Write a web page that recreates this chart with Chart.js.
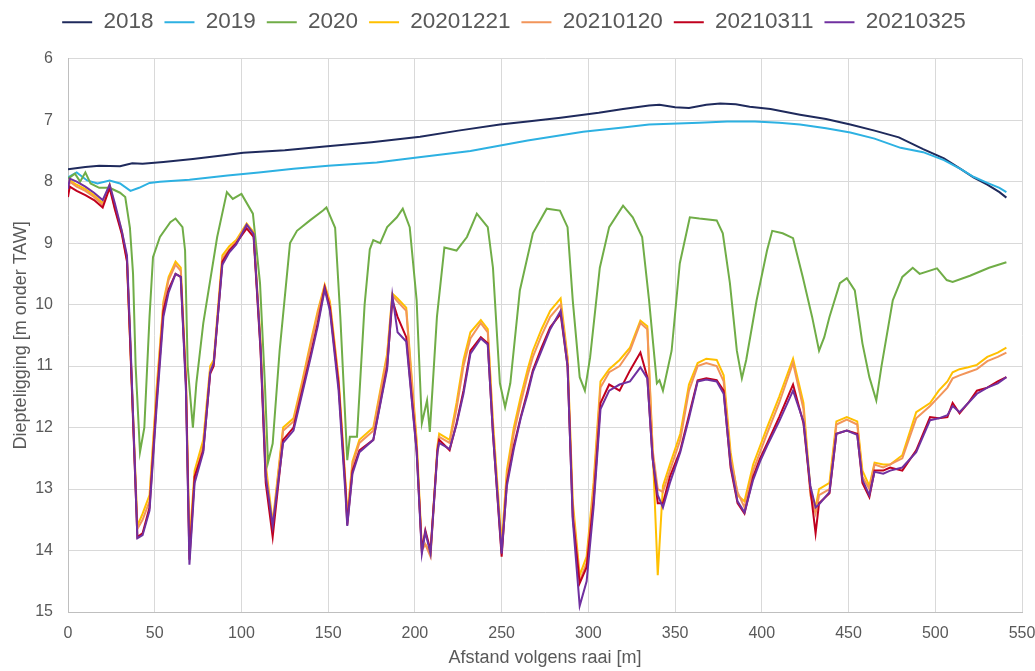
<!DOCTYPE html>
<html>
<head>
    <title>Diepteligging raai</title>
    <script src="https://cdn.jsdelivr.net/npm/chart.js"></script>
    <style>
        body {
            margin: 0;
            background-color: #ffffff;
        }
        #depthChart {
            display: block;
        }
    </style>
</head>
<body>
    <canvas id="depthChart" width="1035" height="671"></canvas>

    <script>
        // Series names as in the legend
        const seriesNames = ['2018', '2019', '2020', '20201221', '20210120', '20210311', '20210325'];

        // 2018 survey (distance [m], depth [m onder TAW])
        const x2018 = [0, 10, 18, 30, 37, 43, 55, 72, 90, 101, 125, 148, 175, 203, 225, 249, 265, 284, 306, 320, 335, 341, 350, 358, 368, 376, 385, 393, 405, 422, 437, 451, 465, 479, 493, 505, 515, 522, 530, 537, 541];
        const d2018 = [7.8, 7.76, 7.74, 7.75, 7.7, 7.71, 7.68, 7.63, 7.57, 7.53, 7.49, 7.43, 7.36, 7.27, 7.17, 7.07, 7.02, 6.96, 6.88, 6.82, 6.76, 6.75, 6.79, 6.8, 6.75, 6.73, 6.74, 6.78, 6.82, 6.91, 6.98, 7.07, 7.17, 7.28, 7.47, 7.62, 7.8, 7.93, 8.05, 8.17, 8.26];

        // 2019 survey
        const x2019 = [0, 5, 11, 17, 24, 30, 36, 41, 47, 53, 70, 92, 110, 130, 150, 178, 200, 232, 265, 297, 320, 335, 364, 380, 396, 410, 422, 437, 451, 465, 480, 493, 505, 515, 522, 530, 537, 541];
        const d2019 = [7.93, 7.85, 7.98, 8.03, 7.98, 8.03, 8.15, 8.1, 8.02, 8.0, 7.97, 7.9, 7.85, 7.79, 7.74, 7.69, 7.61, 7.5, 7.33, 7.19, 7.12, 7.07, 7.04, 7.02, 7.02, 7.04, 7.07, 7.13, 7.2, 7.3, 7.45, 7.52, 7.65, 7.8, 7.92, 8.02, 8.1, 8.17];

        // 2020 survey
        const x2020 = [0, 4, 7, 10, 13, 18, 24, 30, 33, 35.7, 37.5, 39, 41.5, 44, 47, 49, 53, 59, 62, 66, 67.5, 69, 72, 74, 78, 86, 91.6, 95, 100, 106.6, 110.7, 113.5, 115.3, 118, 122, 128, 132, 139.5, 147, 149, 154, 157, 161, 162.5, 166.6, 171, 174, 176, 180, 184, 189.6, 193, 197, 201, 204, 207, 208.6, 212.7, 217, 224, 230, 235.7, 242, 245, 249, 252, 255, 260.5, 268, 276, 283.6, 288, 291, 295, 298, 301, 306.6, 312, 320, 325.6, 331, 335, 339.5, 341, 343, 348, 352.7, 358.5, 364, 374, 377.5, 381.6, 385.6, 388.5, 391, 397, 403, 406, 412, 418, 423.6, 429, 433, 436, 439, 445, 449, 453.6, 458, 462, 466, 469, 475.5, 481, 487, 491, 501, 506.6, 510, 520, 531, 541];
        const d2020 = [7.95, 7.87, 8.0, 7.85, 8.03, 8.1, 8.1, 8.18, 8.25, 8.75, 9.5, 11.0, 12.4, 12.0, 10.2, 9.23, 8.9, 8.66, 8.6, 8.74, 9.12, 11.0, 12.0, 11.28, 10.3, 8.9, 8.17, 8.28, 8.2, 8.52, 9.65, 11.28, 12.57, 12.26, 10.75, 9.0, 8.8, 8.63, 8.47, 8.42, 8.75, 10.2, 12.53, 12.15, 12.15, 10.0, 9.1, 8.95, 9.0, 8.74, 8.58, 8.44, 8.74, 9.93, 11.93, 11.56, 12.07, 10.2, 9.07, 9.12, 8.9, 8.52, 8.74, 9.4, 11.28, 11.67, 11.28, 9.77, 8.84, 8.44, 8.47, 8.74, 9.93, 11.18, 11.4, 10.86, 9.4, 8.74, 8.39, 8.58, 8.9, 9.93, 11.28, 11.23, 11.4, 10.75, 9.33, 8.58, 8.6, 8.63, 8.84, 9.65, 10.75, 11.2, 10.9, 9.93, 9.12, 8.8, 8.84, 8.92, 9.55, 10.2, 10.75, 10.53, 10.2, 9.65, 9.57, 9.77, 10.63, 11.18, 11.56, 11.0, 9.93, 9.55, 9.4, 9.5, 9.41, 9.6, 9.63, 9.53, 9.4, 9.31];

        // Shared distances for the four winter 2020-2021 surveys
        const xWinter = [0, 1, 5, 10, 15, 20, 24, 27, 31, 34, 36, 40, 43, 47, 51, 55, 58, 62, 65, 68, 70, 73, 78, 82, 84, 89, 93, 97, 103, 107, 111, 114, 118, 124, 130, 135, 140, 144, 148, 151, 156, 160, 161, 164, 168, 176, 184, 187, 190, 195, 201, 204, 206, 209, 213, 214, 220, 224, 228, 232, 238, 242, 245, 250, 253, 257, 261, 265, 268, 273, 278, 284, 288, 291, 295, 299, 303, 307, 312, 318, 324, 330, 334, 337, 340, 343, 347, 353, 358, 363, 368, 374, 378, 382, 386, 390, 395, 399, 403, 410, 418, 424, 428, 431, 433, 439, 443, 449, 455, 458, 462, 465, 470, 474, 481, 489, 497, 502, 507, 510, 514, 519, 524, 530, 536, 541];

        const d20201221 = [8.15, 7.98, 8.05, 8.12, 8.22, 8.35, 8.05, 8.4, 8.8, 9.25, 10.7, 13.6, 13.4, 13.1, 11.4, 9.95, 9.55, 9.3, 9.4, 11.2, 13.9, 12.7, 12.2, 11.0, 10.9, 9.2, 9.05, 8.95, 8.68, 8.82, 10.6, 12.6, 13.55, 12.0, 11.85, 11.25, 10.6, 10.1, 9.68, 9.95, 11.2, 12.9, 13.45, 12.55, 12.2, 12.0, 10.8, 9.82, 9.9, 10.05, 12.2, 13.95, 13.9, 14.05, 12.3, 12.1, 12.2, 11.6, 10.9, 10.45, 10.25, 10.4, 11.9, 13.9, 12.7, 12.0, 11.5, 11.05, 10.75, 10.4, 10.1, 9.9, 10.85, 13.2, 14.4, 14.1, 12.9, 11.25, 11.05, 10.9, 10.7, 10.26, 10.35, 12.3, 14.4, 12.95, 12.6, 12.1, 11.3, 10.95, 10.88, 10.9, 11.15, 12.4, 13.1, 13.2, 12.6, 12.3, 12.0, 11.5, 10.88, 11.6, 13.0, 13.3, 13.0, 12.9, 11.9, 11.83, 11.9, 12.7, 12.95, 12.57, 12.6, 12.6, 12.45, 11.75, 11.6, 11.4, 11.25, 11.1, 11.05, 11.02, 10.98, 10.85, 10.78, 10.7];

        const d20210120 = [8.18, 8.0, 8.08, 8.15, 8.25, 8.38, 8.08, 8.42, 8.82, 9.27, 10.7, 13.65, 13.5, 13.2, 11.5, 10.0, 9.6, 9.35, 9.45, 11.25, 14.0, 12.8, 12.3, 11.05, 10.95, 9.25, 9.1, 8.98, 8.7, 8.85, 10.65, 12.7, 13.6, 12.05, 11.9, 11.3, 10.65, 10.15, 9.7, 10.0, 11.25, 12.95, 13.5, 12.6, 12.25, 12.05, 10.85, 9.85, 9.95, 10.1, 12.3, 14.0, 13.9, 14.1, 12.35, 12.15, 12.25, 11.7, 11.0, 10.55, 10.3, 10.45, 12.0, 14.0, 12.8, 12.1, 11.6, 11.15, 10.85, 10.5, 10.2, 10.0, 10.9, 13.3, 14.5, 14.2, 13.0, 11.35, 11.1, 11.0, 10.75, 10.3, 10.4, 12.35, 13.0, 13.05, 12.7, 12.2, 11.4, 11.0, 10.95, 11.0, 11.25, 12.5, 13.05, 13.3, 12.7, 12.4, 12.1, 11.6, 10.95, 11.7, 13.1, 13.4, 13.1, 13.0, 11.95, 11.87, 11.95, 12.8, 13.0, 12.6, 12.65, 12.6, 12.5, 11.85, 11.65, 11.5, 11.35, 11.2, 11.15, 11.1, 11.05, 10.92, 10.85, 10.78];

        const d20210311 = [8.25, 8.08, 8.15, 8.22, 8.3, 8.42, 8.1, 8.45, 8.85, 9.3, 10.75, 13.78, 13.72, 13.3, 11.6, 10.1, 9.75, 9.5, 9.55, 11.3, 14.15, 12.8, 12.37, 11.12, 11.0, 9.3, 9.12, 9.0, 8.76, 8.9, 10.75, 12.9, 13.78, 12.2, 12.0, 11.4, 10.8, 10.3, 9.72, 10.05, 11.3, 13.0, 13.58, 12.7, 12.37, 12.2, 11.0, 9.93, 10.2, 10.53, 12.37, 14.0, 13.67, 14.0, 12.37, 12.2, 12.37, 11.93, 11.4, 10.75, 10.53, 10.63, 12.1, 14.1, 12.9, 12.3, 11.83, 11.4, 11.07, 10.7, 10.37, 10.15, 11.0, 13.45, 14.53, 14.27, 13.2, 11.6, 11.3, 11.4, 11.07, 10.78, 11.18, 12.48, 13.23, 13.23, 12.8, 12.37, 11.8, 11.23, 11.2, 11.23, 11.4, 12.65, 13.23, 13.4, 12.8, 12.5, 12.26, 11.83, 11.3, 11.93, 13.0, 13.72, 13.23, 13.07, 12.1, 12.05, 12.1, 12.9, 13.13, 12.7, 12.7, 12.65, 12.7, 12.37, 11.83, 11.85, 11.83, 11.6, 11.77, 11.6, 11.4, 11.35, 11.25, 11.18];

        const d20210325 = [8.12, 7.95, 8.0, 8.08, 8.18, 8.3, 8.05, 8.35, 8.8, 9.2, 10.6, 13.8, 13.75, 13.35, 11.7, 10.2, 9.8, 9.5, 9.55, 11.4, 14.23, 12.9, 12.4, 11.1, 10.95, 9.35, 9.15, 9.02, 8.7, 8.85, 10.7, 12.8, 13.6, 12.25, 12.05, 11.45, 10.85, 10.35, 9.75, 10.1, 11.4, 13.1, 13.6, 12.75, 12.4, 12.2, 11.05, 9.85, 10.45, 10.6, 12.4, 14.05, 13.7, 14.05, 12.4, 12.25, 12.35, 11.95, 11.45, 10.8, 10.55, 10.65, 12.1, 14.05, 12.95, 12.35, 11.85, 11.45, 11.1, 10.75, 10.4, 10.1, 11.0, 13.5, 14.9, 14.5, 13.3, 11.7, 11.4, 11.3, 11.25, 11.02, 11.2, 12.5, 13.1, 13.3, 12.9, 12.4, 11.85, 11.25, 11.22, 11.25, 11.45, 12.6, 13.2, 13.38, 12.85, 12.55, 12.3, 11.9, 11.4, 11.9, 12.95, 13.3, 13.25, 13.05, 12.1, 12.05, 12.12, 12.85, 13.1, 12.72, 12.75, 12.7, 12.65, 12.4, 11.88, 11.85, 11.8, 11.65, 11.75, 11.6, 11.45, 11.35, 11.28, 11.18];

        const seriesColors = ['#1f2a5c', '#2db1e2', '#70ad47', '#ffc000', '#f2955a', '#c0001e', '#7030a0'];

        const xValues = [x2018, x2019, x2020, xWinter, xWinter, xWinter, xWinter];
        const yValues = [d2018, d2019, d2020, d20201221, d20210120, d20210311, d20210325];

        const textColor = '#595959';
        const fontFamily = '"Liberation Sans", Arial, Helvetica, sans-serif';

        const datasets = seriesNames.map((name, i) => ({
            label: name,
            data: xValues[i].map((x, j) => ({ x: x, y: yValues[i][j] })),
            borderColor: seriesColors[i],
            backgroundColor: seriesColors[i],
            borderWidth: 2,
            pointRadius: 0,
            tension: 0,
            fill: false,
            // later surveys drawn on top, like the original
            order: seriesNames.length - i
        }));

        const ctx = document.getElementById('depthChart').getContext('2d');
        new Chart(ctx, {
            type: 'line',
            data: { datasets: datasets },
            options: {
                responsive: false,
                animation: false,
                layout: {
                    padding: { left: 6, right: 13, top: 0, bottom: 0 }
                },
                plugins: {
                    legend: {
                        position: 'top',
                        labels: {
                            usePointStyle: true,
                            pointStyle: 'line',
                            pointStyleWidth: 30,
                            padding: 11,
                            color: textColor,
                            font: { family: fontFamily, size: 22.5 },
                            sort: (a, b) => a.datasetIndex - b.datasetIndex
                        }
                    },
                    // empty title used as a spacer between legend and plot
                    title: {
                        display: true,
                        text: '',
                        weight: 500,
                        font: { size: 1 },
                        padding: { top: 0, bottom: 14 }
                    },
                    tooltip: { enabled: false }
                },
                scales: {
                    x: {
                        type: 'linear',
                        min: 0,
                        max: 550,
                        afterFit: (scale) => {
                            scale.height = 59;
                            scale.paddingLeft = 0;
                            scale.paddingRight = 0;
                        },
                        ticks: {
                            stepSize: 50,
                            padding: 12,
                            color: textColor,
                            font: { family: fontFamily, size: 16 },
                            maxRotation: 0
                        },
                        grid: { color: '#d9d9d9', drawTicks: false },
                        border: { color: '#bfbfbf' },
                        title: {
                            display: true,
                            text: 'Afstand volgens raai [m]',
                            color: textColor,
                            font: { family: fontFamily, size: 18 },
                            padding: { top: 2, bottom: 2 }
                        }
                    },
                    y: {
                        reverse: true,
                        min: 6,
                        max: 15,
                        afterFit: (scale) => {
                            scale.width = 62;
                        },
                        ticks: {
                            stepSize: 1,
                            padding: 15,
                            color: textColor,
                            font: { family: fontFamily, size: 16 }
                        },
                        grid: { color: '#d9d9d9', drawTicks: false },
                        border: { color: '#bfbfbf' },
                        title: {
                            display: true,
                            text: 'Diepteligging [m onder TAW]',
                            color: textColor,
                            font: { family: fontFamily, size: 18 },
                            padding: { top: 4, bottom: 4 }
                        }
                    }
                }
            }
        });
    </script>
</body>
</html>
